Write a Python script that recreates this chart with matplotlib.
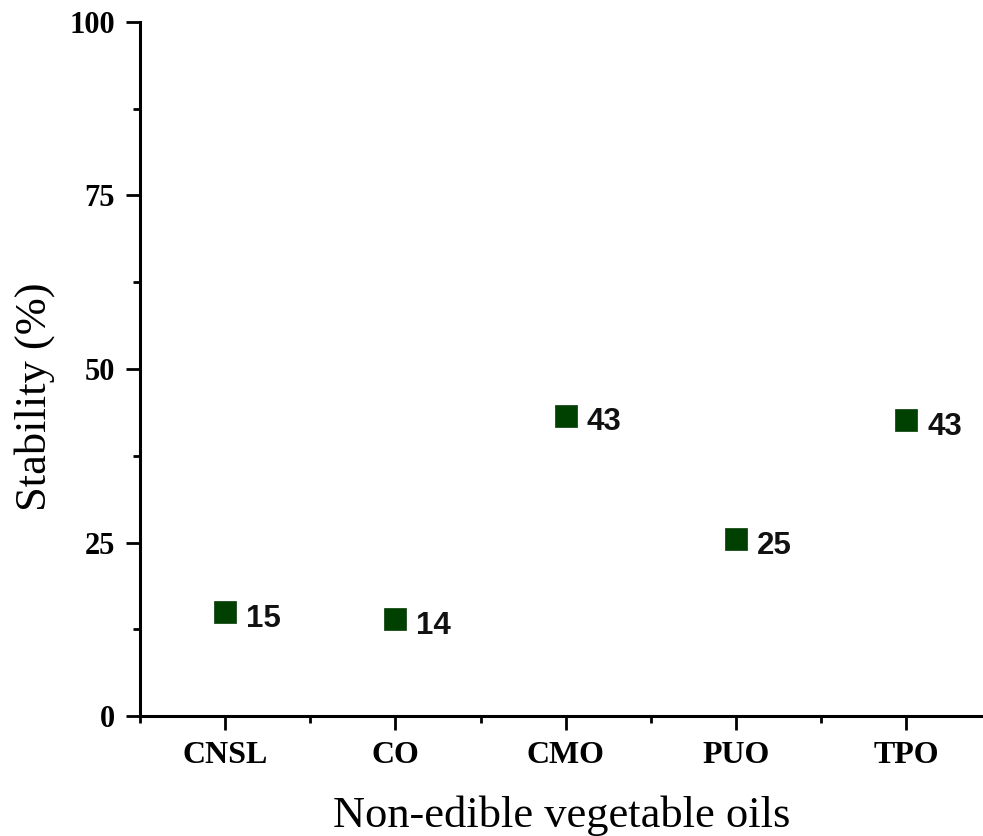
import matplotlib
matplotlib.use('Agg')
import matplotlib.pyplot as plt
from matplotlib.ticker import MultipleLocator, FixedLocator

# datos
oils = ['CNSL', 'CO', 'CMO', 'PUO', 'TPO']
stability = [15.0, 14.0, 43.3, 25.5, 42.7]
labels = ['15', '14', '43', '25', '43']

fig = plt.figure(figsize=(9.83, 8.36), dpi=100)
ax = fig.add_axes([0.1424, 0.1435, 0.8576, 0.8302])

pos = list(range(1, len(oils) + 1))
ax.plot(pos, stability, 's', color='#004000', markersize=16, markeredgecolor='#1a4d1a',
        markeredgewidth=0.6, linestyle='none', clip_on=False)

for x, y, t in zip(pos, stability, labels):
    ax.annotate(t, (x, y), xytext=(15, -5), textcoords='offset points', ha='left', va='center',
                fontsize=22.5, fontweight='bold', family='Liberation Sans', color='#111111')

ax.set_xlim(0.5, 5.45)
ax.set_ylim(0, 100)
ax.set_xticks(pos)
ax.set_xticklabels(oils)
ax.xaxis.set_minor_locator(FixedLocator([0.5, 1.5, 2.5, 3.5, 4.5]))
ax.yaxis.set_major_locator(MultipleLocator(25))
ax.yaxis.set_minor_locator(MultipleLocator(12.5))

for s in ['top', 'right']:
    ax.spines[s].set_visible(False)
for s in ['left', 'bottom']:
    ax.spines[s].set_linewidth(2.2)

ax.tick_params(which='major', direction='out', length=10, width=2, pad=8)
ax.tick_params(which='minor', direction='out', length=5, width=2)
for lab in ax.get_xticklabels():
    lab.set_family('Liberation Serif')
    lab.set_fontweight('bold')
    lab.set_fontsize(23)
for lab in ax.get_yticklabels():
    lab.set_family('Liberation Serif')
    lab.set_fontweight('bold')
    lab.set_fontsize(22)

ax.set_xlabel('Non-edible vegetable oils', family='Liberation Serif', fontsize=32, labelpad=18)
ax.set_ylabel('Stability (%)', family='Liberation Serif', fontsize=32)
ax.yaxis.set_label_coords(-0.101, 0.46)

fig.savefig('out.png', dpi=100)
